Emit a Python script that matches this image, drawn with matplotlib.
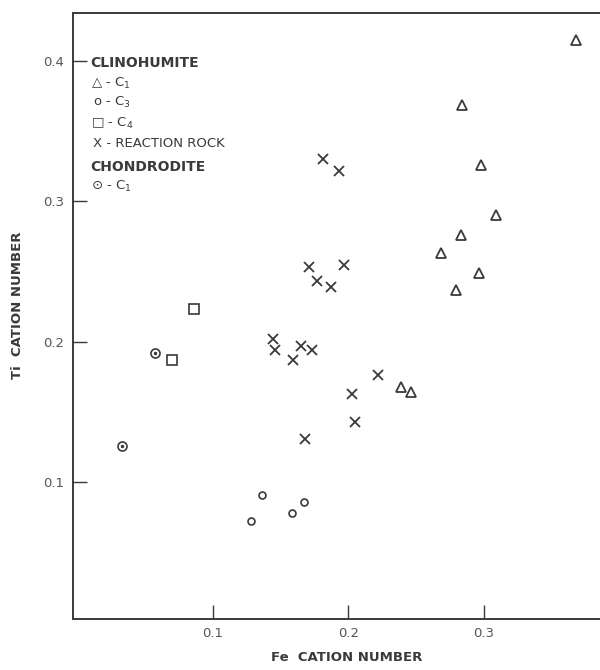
import matplotlib.pyplot as plt

# clinohumite C1 (triangles)
c1_fe = [0.368, 0.284, 0.298, 0.309, 0.283, 0.268, 0.296, 0.279, 0.239, 0.246]
c1_ti = [0.415, 0.369, 0.326, 0.290, 0.276, 0.263, 0.249, 0.237, 0.168, 0.164]

# clinohumite C3 (small circles)
c3_fe = [0.136, 0.167, 0.158, 0.128]
c3_ti = [0.091, 0.086, 0.078, 0.072]

# clinohumite C4 (squares)
c4_fe = [0.086, 0.070]
c4_ti = [0.223, 0.187]

# reaction rock (crosses)
rr_fe = [0.181, 0.193, 0.171, 0.197, 0.177, 0.187, 0.144, 0.146, 0.165, 0.173,
         0.159, 0.222, 0.203, 0.205, 0.168]
rr_ti = [0.330, 0.322, 0.253, 0.255, 0.243, 0.239, 0.202, 0.194, 0.197, 0.194,
         0.187, 0.176, 0.163, 0.143, 0.131]

# chondrodite C1 (dotted circles)
ch_fe = [0.057, 0.033]
ch_ti = [0.192, 0.126]

xticks = [0.1, 0.2, 0.3]
yticks = [0.1, 0.2, 0.3, 0.4]

ink = '#3a3a3a'
plt.rcParams['font.family'] = ['DejaVu Sans']

fig = plt.figure(figsize=(6, 6.7), dpi=100)
ax = fig.add_axes([0.121, 0.0761, 0.879, 0.9045])

ax.plot(c1_fe, c1_ti, ls='none', marker='^', ms=6.5, mfc='none', mec=ink, mew=1.3)
ax.plot(c3_fe, c3_ti, ls='none', marker='o', ms=5, mfc='none', mec=ink, mew=1.2)
ax.plot(c4_fe, c4_ti, ls='none', marker='s', ms=6.5, mfc='none', mec=ink, mew=1.2)
ax.plot(rr_fe, rr_ti, ls='none', marker='x', ms=7, mec=ink, mew=1.3)
ax.plot(ch_fe, ch_ti, ls='none', marker='o', ms=6.5, mfc='none', mec=ink, mew=1.2)
ax.plot(ch_fe, ch_ti, ls='none', marker='o', ms=1.5, mfc=ink, mec=ink)

ax.set_xlim(-0.0035, 0.3856)
ax.set_ylim(0.0024, 0.4343)
ax.set_xticks(xticks)
ax.set_xticklabels(['0.1', '0.2', '0.3'])
ax.set_yticks(yticks)
ax.set_yticklabels(['0.1', '0.2', '0.3', '0.4'])
ax.tick_params(direction='in', length=10, width=1, color=ink,
               labelsize=9.5, labelcolor='#555555', pad=6)

for s in ['left', 'bottom', 'top']:
    ax.spines[s].set_linewidth(1.4)
    ax.spines[s].set_color(ink)
ax.spines['right'].set_visible(False)

ax.set_xlabel('Fe  CATION NUMBER', fontsize=9.5, fontweight='bold', color=ink)
ax.set_ylabel('Ti  CATION NUMBER', fontsize=9.5, fontweight='bold', color=ink)
ax.xaxis.set_label_coords(0.52, -0.064)
ax.yaxis.set_label_coords(-0.104, 0.518)
ax.xaxis.label.set_va('center')
ax.yaxis.label.set_va('center')

# legend block written as text
lx = 0.034
head = dict(transform=ax.transAxes, fontsize=10, fontweight='bold', color=ink, va='center')
row = dict(transform=ax.transAxes, fontsize=9.5, color=ink, va='center')
ax.text(lx, 0.918, 'CLINOHUMITE', **head)
ax.text(lx, 0.884, '\u25b3 - C$_\\mathregular{1}$', **row)
ax.text(lx + 0.004, 0.852, 'o - C$_\\mathregular{3}$', **row)
ax.text(lx, 0.818, '\u25a1 - C$_\\mathregular{4}$', **row)
ax.text(lx + 0.004, 0.784, 'X - REACTION ROCK', **row)
ax.text(lx, 0.746, 'CHONDRODITE', **head)
ax.text(lx, 0.714, '\u2299 - C$_\\mathregular{1}$', **row)

fig.savefig('out.png', dpi=100)
